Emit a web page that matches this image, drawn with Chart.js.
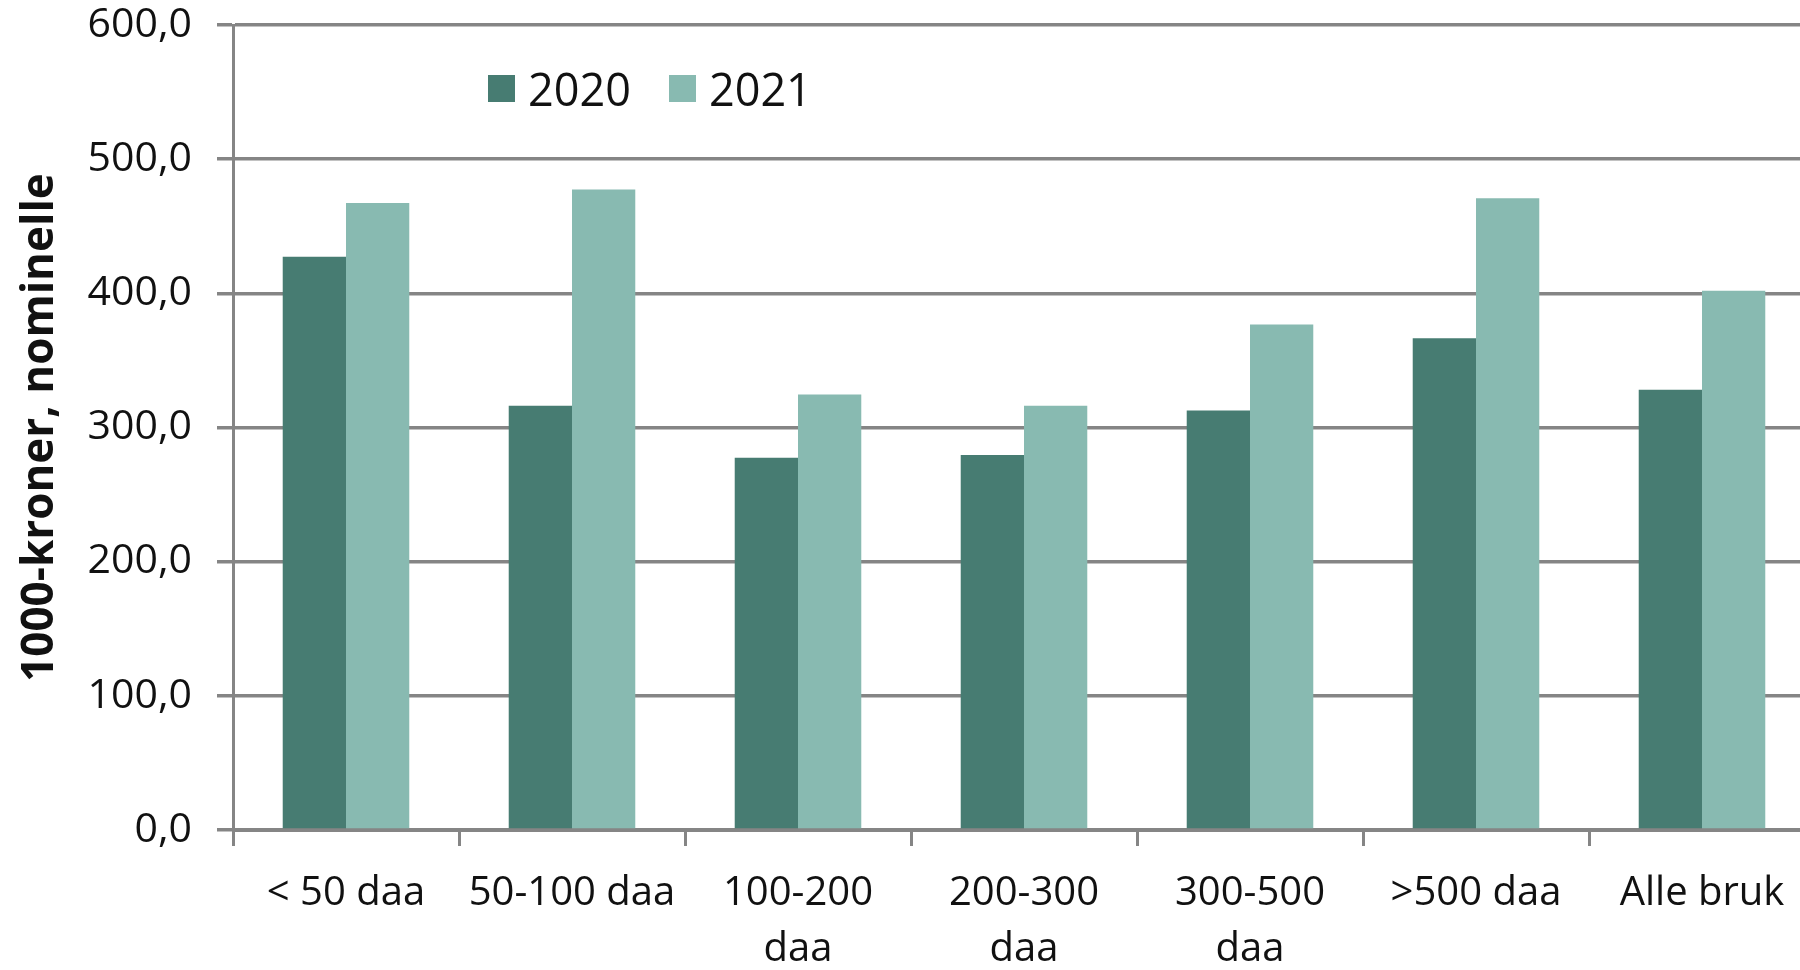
<!DOCTYPE html>
<html>
<head>
<meta charset="utf-8">
<script src="https://cdn.jsdelivr.net/npm/chart.js@4/dist/chart.umd.min.js"></script>
<style>
  html, body { margin: 0; padding: 0; background: #fff; overflow: hidden; }
  #wrap { position: absolute; left: 0; top: 0; width: 1830px; height: 970px; }
  #legend { position: absolute; left: 488px; top: 58px; display: flex; align-items: center;
    font-family: 'Open Sans', sans-serif; font-size: 45px; color: #111; }
  .item { display: flex; align-items: center; margin-right: 38px; }
  .box { width: 27px; height: 27px; margin-right: 13px; }
</style>
</head>
<body>
<div id="wrap">
  <canvas id="chart"></canvas>
  <div id="legend"></div>
</div>
<script>
const categories = ['< 50 daa', '50-100 daa', ['100-200', 'daa'], ['200-300', 'daa'], ['300-500', 'daa'], '>500 daa', 'Alle bruk'];
const values2020 = [427.2, 316.2, 277.5, 279.5, 312.7, 366.6, 328.1];
const values2021 = [467.4, 477.3, 324.6, 316.2, 376.8, 470.8, 401.9];
const seriesNames = ['2020', '2021'];
const seriesColors = ['#477c72', '#88bab1'];
const yMin = 0, yMax = 600, yStep = 100;
const yTitle = '1000-kroner, nominelle';

const gridColor = '#858585';
const font = { family: "'Open Sans', sans-serif", size: 40, lineHeight: 1.4 };

const chart = new Chart(document.getElementById('chart'), {
  type: 'bar',
  data: {
    labels: categories,
    datasets: [
      { label: seriesNames[0], data: values2020, backgroundColor: seriesColors[0] },
      { label: seriesNames[1], data: values2021, backgroundColor: seriesColors[1] },
    ],
  },
  options: {
    responsive: true,
    maintainAspectRatio: false,
    animation: false,
    layout: { padding: { top: 0, right: 15, left: 0, bottom: 0 } },
    datasets: { bar: { categoryPercentage: 0.56, barPercentage: 1 } },
    plugins: { legend: { display: false }, tooltip: { enabled: false } },
    scales: {
      x: {
        grid: { drawOnChartArea: false, drawTicks: true, tickLength: 16, color: gridColor, lineWidth: 3 },
        border: { display: true, color: gridColor, width: 3 },
        ticks: { font, color: '#111', padding: 20, maxRotation: 0, autoSkip: false },
        afterFit: s => { s.height = 140; },
      },
      y: {
        min: yMin,
        max: yMax,
        grid: { color: gridColor, lineWidth: 3.5, tickLength: 16 },
        border: { display: true, color: gridColor, width: 3 },
        ticks: {
          stepSize: yStep,
          font: { family: font.family, size: 41, lineHeight: 1.2 },
          color: '#111',
          padding: 25,
          callback: v => v.toFixed(1).replace('.', ','),
        },
        title: {
          display: true,
          text: yTitle,
          color: '#111',
          font: { family: "'Open Sans', sans-serif", size: 44, weight: 'bold', lineHeight: 1.2 },
          padding: { top: 14, bottom: 0 },
        },
        afterFit: s => { s.width = 233; s.paddingTop = 25; s.paddingBottom = 25; },
      },
    },
  },
});

// Legend
const legendDiv = document.getElementById('legend');
for (const ds of chart.data.datasets) {
  const item = document.createElement('div');
  item.className = 'item';
  const box = document.createElement('span');
  box.className = 'box';
  box.style.background = ds.backgroundColor;
  const txt = document.createElement('span');
  txt.textContent = ds.label;
  item.appendChild(box);
  item.appendChild(txt);
  legendDiv.appendChild(item);
}
</script>
</body>
</html>
